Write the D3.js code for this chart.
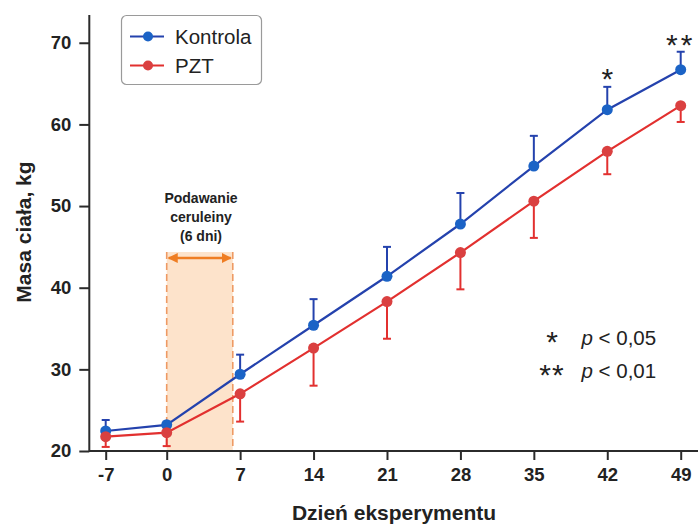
<!DOCTYPE html>
<html>
<head>
<meta charset="utf-8">
<script src="https://cdn.jsdelivr.net/npm/d3@7"></script>
<style>
  html, body { margin: 0; padding: 0; background: #fff; }
  svg { display: block; font-family: "Liberation Sans", Arial, sans-serif; }
</style>
</head>
<body>
<svg id="chart" width="698" height="525"></svg>
<script>
// ---- data ----
const days = [-7, 0, 7, 14, 21, 28, 35, 42, 49];
const xTicks = [-7, 0, 7, 14, 21, 28, 35, 42, 49];
const xTickLabels = ["-7", "0", "7", "14", "21", "28", "35", "42", "49"];
const yTicks = [20, 30, 40, 50, 60, 70];
const kontrola = [22.45, 23.2, 29.4, 35.4, 41.4, 47.8, 54.9, 61.8, 66.7];
const kontrolaErr = [1.35, 0.4, 2.4, 3.2, 3.6, 3.8, 3.7, 2.8, 2.2];
const pzt = [21.75, 22.25, 27.0, 32.6, 38.3, 44.3, 50.6, 56.7, 62.3];
const pztErr = [1.25, 1.65, 3.4, 4.6, 4.55, 4.5, 4.5, 2.8, 2.0];
const seriesNames = ["Kontrola", "PZT"];
const significance = ["", "", "", "", "", "", "", "*", "**"];
const treatmentDays = [0, 6.3];
const treatmentLabel = ["Podawanie", "ceruleiny", "(6 dni)"];
const xLabel = "Dzień eksperymentu";
const yLabel = "Masa ciała, kg";
const sigLegend = [["*", "p", " < 0,05"], ["**", "p", " < 0,01"]];

// ---- styles ----
const blueLine = "#2442ad", blueDot = "#1b63c6";
const redLine = "#e2302f", redDot = "#da4040";
const axisColor = "#2b2b2b";

const svg = d3.select("#chart");

const x = d3.scaleLinear().domain([-7, 0, 49]).range([105.7, 166.7, 680.7]);
const y = d3.scaleLinear().domain([20, 73.4]).range([451, 15]);

// treatment shading
const shade = svg.append("g");
shade.append("rect")
  .attr("x", x(treatmentDays[0])).attr("y", 252)
  .attr("width", x(treatmentDays[1]) - x(treatmentDays[0]))
  .attr("height", y(20) - 252)
  .attr("fill", "#fde3cb");
treatmentDays.forEach(d => {
  shade.append("line")
    .attr("x1", x(d)).attr("x2", x(d)).attr("y1", 252).attr("y2", y(20))
    .attr("stroke", "#ee9a64").attr("stroke-width", 1.6)
    .attr("stroke-dasharray", "7,4");
});
// arrow
const defs = svg.append("defs");
["start", "end"].forEach(k => {
  defs.append("marker").attr("id", "arr-" + k)
    .attr("viewBox", "0 0 10 10").attr("refX", 9).attr("refY", 5)
    .attr("markerWidth", 4.2).attr("markerHeight", 4.2)
    .attr("orient", k === "end" ? "auto" : "auto-start-reverse")
    .attr("markerUnits", "strokeWidth")
    .append("path").attr("d", "M0,0 L10,5 L0,10 Z").attr("fill", "#ef7d22");
});
shade.append("line")
  .attr("x1", x(treatmentDays[0]) + 2).attr("x2", x(treatmentDays[1]) - 2)
  .attr("y1", 258).attr("y2", 258)
  .attr("stroke", "#ef7d22").attr("stroke-width", 2.4)
  .attr("marker-start", "url(#arr-start)").attr("marker-end", "url(#arr-end)");
const tl = svg.append("text")
  .attr("text-anchor", "middle").attr("font-size", 14).attr("font-weight", "bold").attr("fill", "#222");
treatmentLabel.forEach((t, i) => {
  tl.append("tspan").attr("x", 201).attr("y", 203 + i * 19).text(t);
});

// axes
const xAxis = d3.axisBottom(x).tickValues(xTicks).tickSize(9).tickPadding(8)
  .tickFormat((d, i) => xTickLabels[i]);
const gx = svg.append("g").attr("transform", `translate(0,${y(20)})`).call(xAxis);
gx.select(".domain").remove();
gx.append("line").attr("x1", 89.3).attr("x2", 698).attr("y1", 0).attr("y2", 0)
  .attr("stroke", axisColor).attr("stroke-width", 2);
gx.selectAll(".tick line").attr("stroke", axisColor).attr("stroke-width", 2);
gx.selectAll(".tick text").attr("font-size", 18.5).attr("font-weight", "bold")
  .attr("fill", "#222").attr("font-family", "Liberation Sans, Arial, sans-serif");

const yAxis = d3.axisLeft(y).tickValues(yTicks).tickSize(10).tickPadding(8);
const gy = svg.append("g").attr("transform", `translate(89.3,0)`).call(yAxis);
gy.select(".domain").remove();
gy.append("line").attr("x1", 0).attr("x2", 0).attr("y1", 15).attr("y2", y(20) + 1)
  .attr("stroke", axisColor).attr("stroke-width", 2);
gy.selectAll(".tick line").attr("stroke", axisColor).attr("stroke-width", 2);
gy.selectAll(".tick text").attr("font-size", 18.5).attr("font-weight", "bold")
  .attr("fill", "#222").attr("font-family", "Liberation Sans, Arial, sans-serif");

// axis titles
svg.append("text").attr("x", 394).attr("y", 520).attr("text-anchor", "middle")
  .attr("font-size", 21).attr("font-weight", "bold").attr("fill", "#222").text(xLabel);
svg.append("text").attr("transform", "translate(31,232) rotate(-90)").attr("text-anchor", "middle")
  .attr("font-size", 21).attr("font-weight", "bold").attr("fill", "#222").text(yLabel);

// series
const series = [
  { name: seriesNames[0], vals: kontrola, err: kontrolaErr, dir: 1, line: blueLine, dot: blueDot },
  { name: seriesNames[1], vals: pzt, err: pztErr, dir: -1, line: redLine, dot: redDot }
];
const lineGen = d3.line().x(d => x(d[0])).y(d => y(d[1]));
series.forEach(s => {
  const pts = days.map((d, i) => [d, s.vals[i], s.err[i]]);
  const g = svg.append("g");
  g.append("path").datum(pts).attr("d", lineGen)
    .attr("fill", "none").attr("stroke", s.line).attr("stroke-width", 2.2);
  pts.forEach(p => {
    const yEnd = y(p[1] + s.dir * p[2]);
    g.append("line").attr("x1", x(p[0])).attr("x2", x(p[0]))
      .attr("y1", y(p[1])).attr("y2", yEnd)
      .attr("stroke", s.line).attr("stroke-width", 2);
    g.append("line").attr("x1", x(p[0]) - 4).attr("x2", x(p[0]) + 4)
      .attr("y1", yEnd).attr("y2", yEnd)
      .attr("stroke", s.line).attr("stroke-width", 2);
  });
  g.selectAll("circle").data(pts).join("circle")
    .attr("cx", d => x(d[0])).attr("cy", d => y(d[1])).attr("r", 5.5)
    .attr("fill", s.dot);
});

// significance marks
days.forEach((d, i) => {
  if (!significance[i]) return;
  const top = y(kontrola[i] + kontrolaErr[i]);
  svg.append("text").attr("x", x(d)).attr("y", top + (significance[i].length > 1 ? 3 : 2))
    .attr("text-anchor", "middle").attr("font-size", 30).attr("fill", "#222")
    .attr("letter-spacing", significance[i].length > 1 ? 3 : 0)
    .text(significance[i]);
});

// legend
const lg = svg.append("g");
lg.append("rect").attr("x", 121.5).attr("y", 15.5).attr("width", 140).attr("height", 69)
  .attr("rx", 5).attr("fill", "#fff").attr("stroke", "#9a9a9a").attr("stroke-width", 1.2);
series.forEach((s, i) => {
  const yy = 36.5 + i * 29;
  lg.append("line").attr("x1", 130).attr("x2", 164).attr("y1", yy).attr("y2", yy)
    .attr("stroke", s.line).attr("stroke-width", 2.2);
  lg.append("circle").attr("cx", 148).attr("cy", yy).attr("r", 5).attr("fill", s.dot);
  lg.append("text").attr("x", 175).attr("y", yy + 7.5).attr("font-size", 20.5)
    .attr("fill", "#222").text(s.name);
});

// significance legend
sigLegend.forEach((r, i) => {
  const by = 345 + i * 33;
  svg.append("text").attr("x", 552).attr("y", by + 7).attr("text-anchor", "middle")
    .attr("font-size", 30).attr("fill", "#222").attr("letter-spacing", r[0].length > 1 ? 1 : 0).text(r[0]);
  const t = svg.append("text").attr("x", 581.5).attr("y", by).attr("font-size", 20.5).attr("fill", "#222");
  t.append("tspan").attr("font-style", "italic").text(r[1]);
  t.append("tspan").text(r[2]);
});
</script>
</body>
</html>
